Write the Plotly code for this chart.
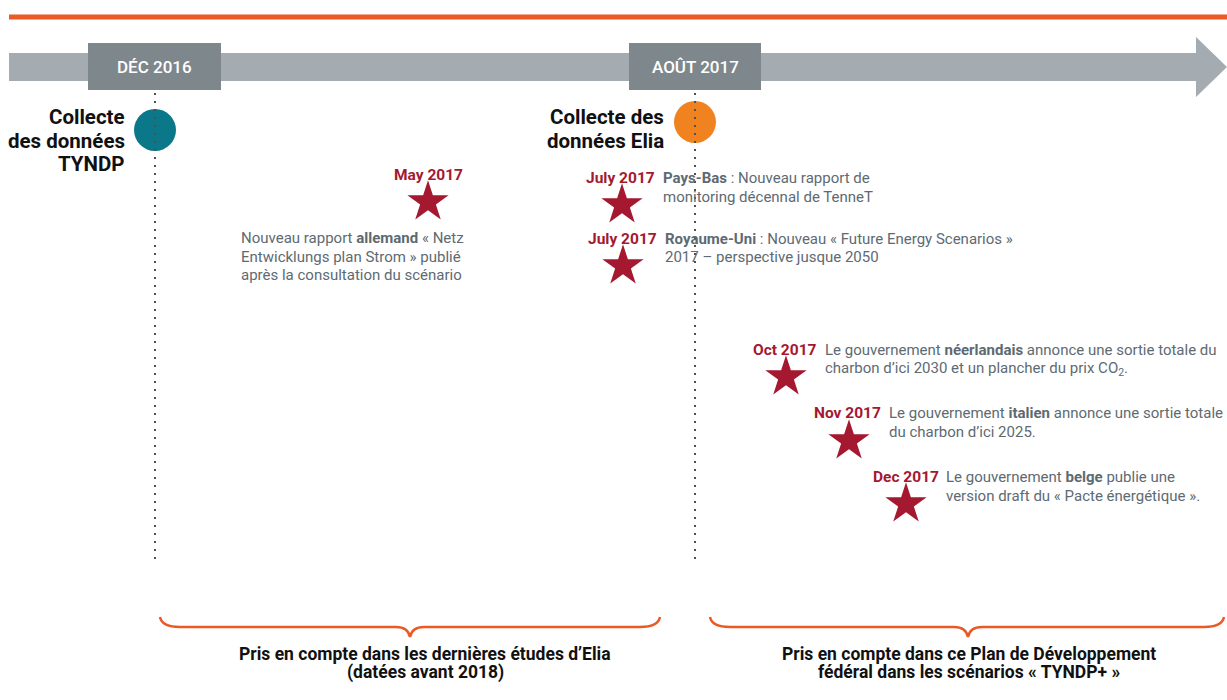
import plotly.graph_objects as go

# ---------------- data ----------------
milestone_dates = ["DÉC 2016", "AOÛT 2017"]
milestone_titles = [["Collecte", "des données", "TYNDP"], ["Collecte des", "données Elia"]]
milestone_colors = ["#0B7889", "#F0831F"]

event_dates = ["May 2017", "July 2017", "July 2017", "Oct 2017", "Nov 2017", "Dec 2017"]
event_texts = [
    ["Nouveau rapport <b>allemand</b> « Netz", "Entwicklungs plan Strom » publié",
     "après la consultation du scénario"],
    ["<b>Pays-Bas</b> : Nouveau rapport de", "monitoring décennal de TenneT"],
    ["<b>Royaume-Uni</b> : Nouveau « Future Energy Scenarios »", "2017 – perspective jusque 2050"],
    ["Le gouvernement <b>néerlandais</b> annonce une sortie totale du",
     "charbon d’ici 2030 et un plancher du prix CO<sub>2</sub>."],
    ["Le gouvernement <b>italien</b> annonce une sortie totale", "du charbon d’ici 2025."],
    ["Le gouvernement <b>belge</b> publie une", "version draft du « Pacte énergétique »."],
]
period_texts = [
    ["Pris en compte dans les dernières études d’Elia", "(datées avant 2018)"],
    ["Pris en compte dans ce Plan de Développement", "fédéral dans les scénarios « TYNDP+ »"],
]

# ---------------- layout (pixel canvas) ----------------
W, H = 1227, 700
RED = "#A4192F"
GREY_TXT = "#5E6A72"
ORANGE = "#EA5A25"
BAR = "#A5ACB1"
BOX = "#7E878C"
COND_BOLD = "Roboto, sans-serif"
REG = "Roboto, sans-serif"

milestone_x = [155, 695]
milestone_box = [(88, 221), (629, 761)]
milestone_circle_y = [130, 122]
milestone_title_right = [127, 666]
milestone_title_y0 = [117, 117]
milestone_title_dy = 23.5

# event layout: (label right x, label y, star x, star y, text left x, line spacing)
event_layout = [
    (None, 175, 428, 202, 239, 18.5),
    (657, 178, 622, 205, 661, 19),
    (659, 239, 623, 266, 663, 18),
    (819, 350, 786, 377, 823, 19),
    (883, 413, 849, 441, 887, 19),
    (941, 477, 906, 504, 944, 19),
]
period_center = [425, 969]
brace_span = [(160, 660, 410), (710, 1224, 968)]

fig = go.Figure()
shapes = []
annotations = []

# top orange rule
shapes.append(dict(type="line", x0=9, x1=W, y0=17, y1=17, line=dict(color=ORANGE, width=5)))
# grey timeline arrow
shapes.append(dict(type="rect", x0=9, x1=1197, y0=53, y1=81, fillcolor=BAR, line=dict(width=0)))
shapes.append(dict(type="path", path="M1196,37 L1227,67 L1196,97 Z", fillcolor=BAR, line=dict(width=0)))

for i, lab in enumerate(milestone_dates):
    x = milestone_x[i]
    bx0, bx1 = milestone_box[i]
    shapes.append(dict(type="line", x0=x, x1=x, y0=93, y1=562,
                       line=dict(color="#505050", width=2, dash="2px,6px")))
    shapes.append(dict(type="rect", x0=bx0, x1=bx1, y0=43, y1=90, fillcolor=BOX, line=dict(width=0)))
    annotations.append(dict(x=(bx0 + bx1) / 2, y=67, text=lab, showarrow=False,
                            xanchor="center", yanchor="middle",
                            font=dict(family=REG, size=17, color="white", weight=500)))
    for j, line in enumerate(milestone_titles[i]):
        annotations.append(dict(x=milestone_title_right[i], y=milestone_title_y0[i] + j * milestone_title_dy,
                                text="<b>" + line + "</b>", showarrow=False,
                                xanchor="right", yanchor="middle",
                                font=dict(family=COND_BOLD, size=20.5, color="#111111")))

fig.add_trace(go.Scatter(
    x=milestone_x, y=milestone_circle_y, mode="markers",
    marker=dict(size=42, color=milestone_colors, line=dict(width=0)),
    hoverinfo="skip", showlegend=False))

# events
star_x, star_y = [], []
for i, d in enumerate(event_dates):
    lx, ly, sx, sy, tx, dy = event_layout[i]
    star_x.append(sx)
    star_y.append(sy)
    if lx is None:
        annotations.append(dict(x=sx, y=ly, text="<b>" + d + "</b>", showarrow=False,
                                xanchor="center", yanchor="middle",
                                font=dict(family=REG, size=15.5, color=RED)))
        ty0 = 238
    else:
        annotations.append(dict(x=lx, y=ly, text="<b>" + d + "</b>", showarrow=False,
                                xanchor="right", yanchor="middle",
                                font=dict(family=REG, size=15.5, color=RED)))
        ty0 = ly
    for j, line in enumerate(event_texts[i]):
        annotations.append(dict(x=tx, y=ty0 + j * dy, text=line,
                                showarrow=False, xanchor="left", yanchor="middle",
                                font=dict(family=REG, size=15, color=GREY_TXT)))

fig.add_trace(go.Scatter(
    x=star_x, y=star_y, mode="markers",
    marker=dict(symbol="star", size=31, color=RED, line=dict(width=0)),
    hoverinfo="skip", showlegend=False))

# braces + period captions
for i, (x0, x1, xm) in enumerate(brace_span):
    path = (f"M{x0},617 Q{x0+2},627 {x0+20},627 L{xm-14},627 Q{xm-2},627 {xm},637 "
            f"Q{xm+2},627 {xm+14},627 L{x1-20},627 Q{x1-2},627 {x1},617")
    shapes.append(dict(type="path", path=path, line=dict(color=ORANGE, width=2.5)))
    for j, line in enumerate(period_texts[i]):
        annotations.append(dict(x=period_center[i], y=654 + j * 18, text="<b>" + line + "</b>",
                                showarrow=False, xanchor="center", yanchor="middle",
                                font=dict(family=COND_BOLD, size=17.5, color="#111111")))

fig.update_layout(
    width=W, height=H,
    margin=dict(l=0, r=0, t=0, b=0),
    paper_bgcolor="white", plot_bgcolor="white",
    xaxis=dict(range=[0, W], visible=False, fixedrange=True),
    yaxis=dict(range=[H, 0], visible=False, fixedrange=True),
    shapes=shapes, annotations=annotations,
    showlegend=False,
)

fig.write_html("out.html", config={"displayModeBar": False},
               post_script="document.body.style.margin='0';document.body.style.overflow='hidden';")
